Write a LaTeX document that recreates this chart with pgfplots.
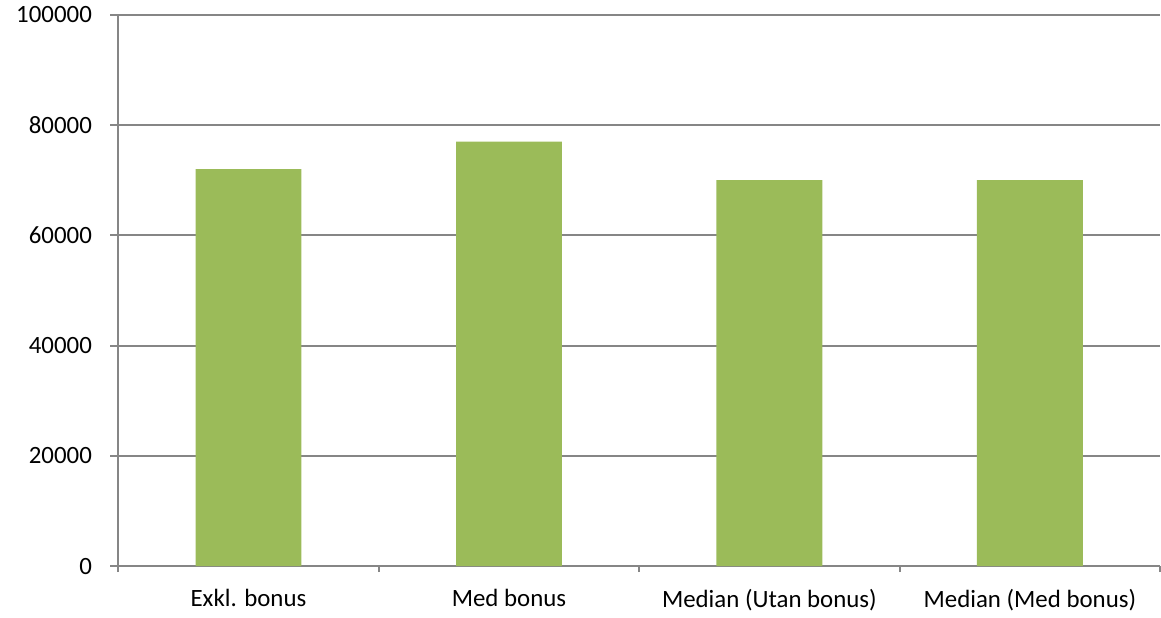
\documentclass[border=0pt]{standalone}
\usepackage{pgfplots}
\pgfplotsset{compat=1.18}
\usepackage{fontspec}
\setmainfont{Carlito}
\definecolor{barg}{RGB}{155,187,89}
\definecolor{gridg}{RGB}{134,134,134}
\begin{document}
\begin{tikzpicture}
\begin{axis}[
  width=521.5bp, height=276bp, scale only axis,
  xmin=-0.5, xmax=3.5, ymin=0, ymax=100000,
  axis lines=left, axis line style={-, gridg, line width=0.9pt},
  xtick={0,1,2,3},
  xticklabels={Exkl. bonus, Med bonus, Median (Utan bonus), Median (Med bonus)},
  minor xtick={-0.5,0.5,1.5,2.5,3.5},
  major x tick style={draw=none},
  minor x tick style={gridg, line width=0.9pt},
  minor tick length=3bp,
  tick align=outside,
  ytick={0,20000,...,100000},
  ymajorgrids, major grid style={gridg, line width=0.9pt},
  major y tick style={gridg, line width=0.9pt},
  major tick length=4bp,
  scaled y ticks=false,
  /pgf/number format/assume math mode=true,
  yticklabel={\pgfmathprintnumber[fixed,1000 sep={}]{\tick}},
  tick label style={font=\fontsize{12.5}{14}\selectfont},
  y tick label style={anchor=east, text width=46bp, align=right, inner xsep=0pt, xshift=-9bp},
  x tick label style={yshift=-4bp},
  enlargelimits=false,
  clip=false,
]
\addplot[ybar, bar width=53bp, fill=barg, draw=none] coordinates {(0,72000) (1,77000) (2,70000) (3,70000)};
\end{axis}
\end{tikzpicture}
\end{document}
